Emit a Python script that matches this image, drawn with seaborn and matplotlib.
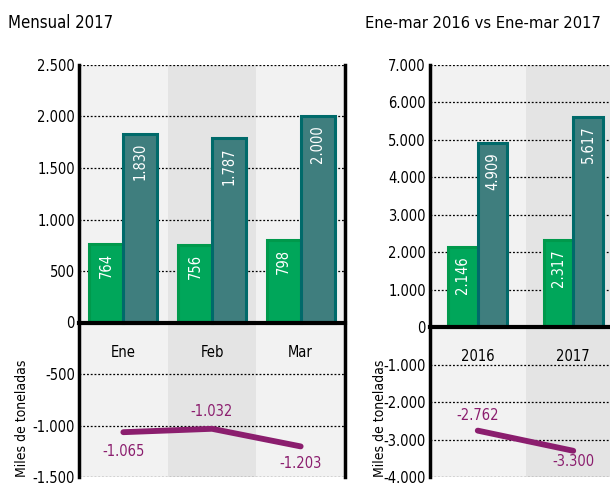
import matplotlib
matplotlib.use("Agg")
import matplotlib.pyplot as plt
import pandas as pd
import seaborn as sns

# datos (miles de toneladas)
meses = ["Ene", "Feb", "Mar"]
export_mes = [764, 756, 798]
import_mes = [1830, 1787, 2000]
balanza_mes = [-1065, -1032, -1203]

anios = ["2016", "2017"]
export_anio = [2146, 2317]
import_anio = [4909, 5617]
balanza_anio = [-2762, -3300]

ticks_mes = [2500, 2000, 1500, 1000, 500, 0, -500, -1000, -1500]
ticks_anio = [7000, 6000, 5000, 4000, 3000, 2000, 1000, 0, -1000, -2000, -3000, -4000]

VERDE, VERDE_BORDE = "#00a65a", "#00994c"
TEAL, TEAL_BORDE = "#3f7e7e", "#006a6a"
MORADO = "#8b1e6e"
FONDO1, FONDO2 = "#f2f2f2", "#e4e4e4"

sns.set_style("white")
plt.rcParams["font.family"] = ["DejaVu Sans"]
plt.rcParams["font.stretch"] = "condensed"
plt.rcParams["text.color"] = "black"
plt.rcParams["xtick.color"] = "black"
plt.rcParams["ytick.color"] = "black"


def fmt(v):
    return f"{v:,}".replace(",", ".")


def panel(ax, cats, exp, imp, bal, ticks, width, offs):
    df = pd.DataFrame({
        "cat": cats * 2,
        "valor": exp + imp,
        "serie": ["exp"] * len(cats) + ["imp"] * len(cats),
    })
    ax.set_facecolor(FONDO1)
    sns.barplot(data=df, x="cat", y="valor", hue="serie", ax=ax,
                palette=[VERDE, TEAL], width=width, gap=0, legend=False,
                saturation=1, zorder=3)
    for cont, borde in zip(ax.containers, [VERDE_BORDE, TEAL_BORDE]):
        for p in cont:
            p.set_edgecolor(borde)
            p.set_linewidth(2.2)
            val = p.get_height()
            ax.annotate(fmt(int(round(val))), (p.get_x() + p.get_width() / 2, val),
                        xytext=(0, -9), textcoords="offset pixels",
                        rotation=90, ha="center", va="top", color="white",
                        fontsize=10.5, zorder=5)
    n = len(cats)
    for i in range(n):
        if i % 2 == 1:
            ax.axvspan(i - 0.5, i + 0.5, color=FONDO2, zorder=0, lw=0)
    x = list(range(n))
    sns.lineplot(x=x, y=bal, ax=ax, color=MORADO, linewidth=4.2, zorder=4)
    for (xi, yi), d in zip(zip(x, bal), offs):
        ax.annotate(fmt(yi), (xi, yi), xytext=(0, d), textcoords="offset pixels",
                    ha="center", va="center", color=MORADO, fontsize=10.5, zorder=5)

    ax.set_xlim(-0.5, n - 0.5)
    ax.set_ylim(ticks[-1], ticks[0])
    ax.set_yticks(ticks)
    ax.set_yticklabels([fmt(t) for t in ticks], fontsize=10.5)
    ax.yaxis.grid(True, color="black", linestyle=(0, (1.5, 1.5)), linewidth=0.9)
    ax.set_axisbelow(True)
    ax.tick_params(axis="y", length=0, pad=3)
    ax.tick_params(axis="x", length=10, width=2.2, pad=6, labelsize=10.5, direction="out")
    ax.set_xlabel("")
    ax.set_ylabel("")
    ax.spines["bottom"].set_position(("data", 0))
    ax.spines["bottom"].set_linewidth(3)
    ax.spines["left"].set_linewidth(2.5)
    ax.spines["right"].set_linewidth(2.5)
    ax.spines["top"].set_visible(False)
    for s in ["bottom", "left", "right"]:
        ax.spines[s].set_color("black")
        ax.spines[s].set_zorder(6)


W, H = 610, 504
fig = plt.figure(figsize=(W / 100, H / 100), dpi=100)
ax1 = fig.add_axes([79 / W, 27 / H, 266 / W, 412 / H])
ax2 = fig.add_axes([430 / W, 27 / H, 191 / W, 412 / H])

panel(ax1, meses, export_mes, import_mes, balanza_mes, ticks_mes, 0.77, [-19, 17, -17])
panel(ax2, anios, export_anio, import_anio, balanza_anio, ticks_anio, 0.62, [15, -11])
ax2.spines["right"].set_visible(False)

fig.text(8 / W, 1 - 28 / H, "Mensual 2017", fontsize=12, va="baseline")
fig.text(365 / W, 1 - 28 / H, "Ene-mar 2016 vs Ene-mar 2017", fontsize=11.8, va="baseline")
fig.text(22 / W, 27 / H, "Miles de toneladas", rotation=90, fontsize=10,
         ha="center", va="bottom")
fig.text(380 / W, 27 / H, "Miles de toneladas", rotation=90, fontsize=10,
         ha="center", va="bottom")

fig.savefig("out.png", dpi=100)
